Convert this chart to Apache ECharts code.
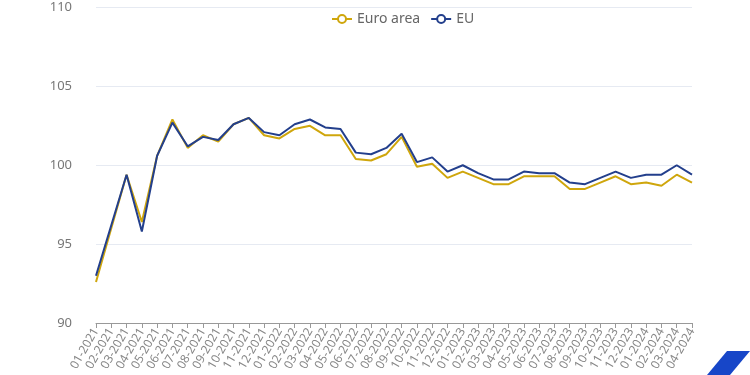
<!DOCTYPE html>
<html>
<head>
<meta charset="utf-8">
<script src="https://cdn.jsdelivr.net/npm/echarts@6/dist/echarts.min.js"></script>
<style>html,body{margin:0;padding:0;background:#fff}#c{width:750px;height:375px}</style>
</head>
<body>
<div id="c"></div>
<script>
const categories = ["01-2021","02-2021","03-2021","04-2021","05-2021","06-2021","07-2021","08-2021","09-2021","10-2021","11-2021","12-2021",
"01-2022","02-2022","03-2022","04-2022","05-2022","06-2022","07-2022","08-2022","09-2022","10-2022","11-2022","12-2022",
"01-2023","02-2023","03-2023","04-2023","05-2023","06-2023","07-2023","08-2023","09-2023","10-2023","11-2023","12-2023",
"01-2024","02-2024","03-2024","04-2024"];
const euroArea = [92.6, 96.0, 99.4, 96.4, 100.6, 102.9, 101.1, 101.9, 101.5, 102.6, 103.0, 101.9, 101.7, 102.3, 102.5, 101.9, 101.9, 100.4, 100.3, 100.7, 101.8, 99.9, 100.1, 99.2, 99.6, 99.2, 98.8, 98.8, 99.3, 99.3, 99.3, 98.5, 98.5, 98.9, 99.3, 98.8, 98.9, 98.7, 99.4, 98.9];
const eu = [93.0, 96.2, 99.4, 95.8, 100.6, 102.7, 101.2, 101.8, 101.6, 102.6, 103.0, 102.1, 101.9, 102.6, 102.9, 102.4, 102.3, 100.8, 100.7, 101.1, 102.0, 100.2, 100.5, 99.6, 100.0, 99.5, 99.1, 99.1, 99.6, 99.5, 99.5, 98.9, 98.8, 99.2, 99.6, 99.2, 99.4, 99.4, 100.0, 99.4];
const seriesNames = ["Euro area", "EU"];
const yMin = 90, yMax = 110, yInterval = 5;

const chart = echarts.init(document.getElementById('c'), null, {renderer: 'canvas'});
const font = '"Noto Sans", "Open Sans", sans-serif';
chart.setOption({
  animation: false,
  textStyle: {fontFamily: font},
  legend: {
    top: 7, left: 326,
    itemWidth: 20, itemHeight: 10, itemGap: 10,
    textStyle: {color: '#666', fontSize: 14, fontFamily: font},
    data: seriesNames
  },
  grid: {left: 96, right: 58, top: 7.5, bottom: 52, containLabel: false},
  xAxis: {
    type: 'category', data: categories, boundaryGap: false,
    axisLine: {lineStyle: {color: '#999'}},
    axisTick: {show: true, alignWithLabel: true, length: 5, lineStyle: {color: '#999'}},
    axisLabel: {rotate: 60, interval: 0, color: '#888', fontSize: 12, margin: 6, fontFamily: font}
  },
  yAxis: {
    type: 'value', min: yMin, max: yMax, interval: yInterval,
    axisLine: {show: false}, axisTick: {show: false},
    axisLabel: {color: '#777', fontSize: 13, margin: 24, fontFamily: font},
    splitLine: {lineStyle: {color: '#e6eaf2'}}
  },
  series: [
    {name: seriesNames[0], type: 'line', data: euroArea, symbol: 'emptyCircle', symbolSize: 8, showSymbol: false,
     lineStyle: {width: 2, color: '#cfa60c'}, itemStyle: {color: '#cfa60c'}},
    {name: seriesNames[1], type: 'line', data: eu, symbol: 'emptyCircle', symbolSize: 8, showSymbol: false,
     lineStyle: {width: 2, color: '#233f8c'}, itemStyle: {color: '#233f8c'}}
  ],
  graphic: [{
    type: 'polygon', silent: true,
    shape: {points: [[727, 351], [750, 351], [730, 375], [707, 375]]},
    style: {fill: '#1746c8'}
  }]
});
</script>
</body>
</html>
